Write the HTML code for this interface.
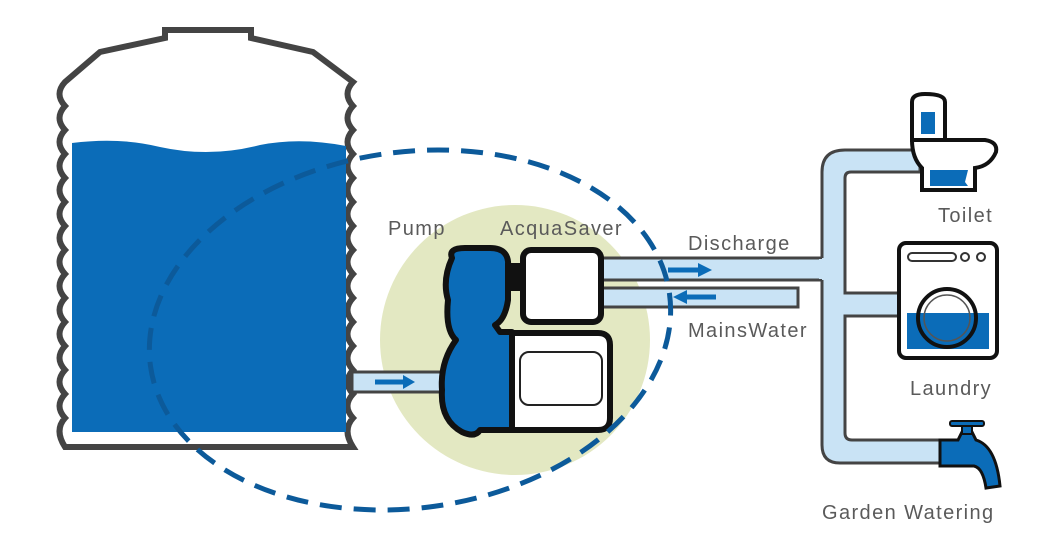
<!DOCTYPE html>
<html><head><meta charset="utf-8"><style>
html,body{margin:0;padding:0;background:#fff;}
svg{display:block;}
text{font-family:"Liberation Sans",sans-serif;font-size:20px;fill:#5a5a5a;letter-spacing:1.4px;}
</style></head><body>
<svg width="1056" height="557" viewBox="0 0 1056 557" xmlns="http://www.w3.org/2000/svg">
<circle cx="515" cy="340" r="135" fill="#e3e8c2"/>
<path d="M165,38 L165,30 L251,30 L251,38 L313,52 L353,82
 Q342,94 353,106 Q342,118 353,130 Q342,142 353,154 Q342,166 353,178 Q342,190 353,202 Q342,214 353,226 Q342,238 353,250 Q342,262 353,274 Q342,286 353,298 Q342,310 353,322 Q342,334 353,346 Q342,358 353,370 Q342,382 353,394 Q342,406 353,418 Q342,430 353,447
 L65,447 Q54,430 65,418 Q54,406 65,394 Q54,382 65,370 Q54,358 65,346 Q54,334 65,322 Q54,310 65,298 Q54,286 65,274 Q54,262 65,250 Q54,238 65,226 Q54,214 65,202 Q54,190 65,178 Q54,166 65,154 Q54,142 65,130 Q54,118 65,106 Q54,94 65,82 L100,52 Z" fill="#fff" stroke="#444" stroke-width="6" stroke-linejoin="miter"/>
<path d="M72,143 Q120,137 160,147 Q210,158 260,145 Q300,137 346,146 L346,432 L72,432 Z" fill="#0b6cb8"/>
<rect x="352" y="372" width="96" height="20" fill="#c9e3f5" stroke="#444" stroke-width="3"/>
<path d="M375,382 L405,382" stroke="#0b6cb8" stroke-width="5"/><path d="M403,375 L415,382 L403,389 Z" fill="#0b6cb8"/>
<path d="M600,258 L828,258 L828,280 L600,280" fill="#c9e3f5" stroke="#444" stroke-width="3"/>
<rect x="600" y="288" width="198" height="19" fill="#c9e3f5" stroke="#444" stroke-width="3"/>
<path d="M668,270 L700,270" stroke="#0b6cb8" stroke-width="5"/><path d="M698,263 L712,270 L698,277 Z" fill="#0b6cb8"/>
<path d="M685,297 L716,297" stroke="#0b6cb8" stroke-width="5"/><path d="M687,290 L673,297 L687,304 Z" fill="#0b6cb8"/>
<path d="M822,280 L822,445 Q822,463 840,463 L945,463 L945,440 L852,440 Q845,440 845,433 L845,316 L905,316 L905,293 L845,293 L845,178 Q845,172 851,172 L920,172 L920,150 L845,150 Q822,150 822,172 L822,258" fill="#c9e3f5" stroke="#444" stroke-width="3"/>
<rect x="819" y="259" width="8" height="20" fill="#c9e3f5"/>
<path d="M452,258 Q448,248 465,248 L490,248 Q510,248 508,268 L508,300 Q505,320 495,325 L500,332 L512,332 L512,430 L480,430 Q475,438 462,432 Q440,420 442,390 Q440,362 456,340 Q445,330 448,300 Q442,280 452,258 Z" fill="#0b6cb8" stroke="#111" stroke-width="6" stroke-linejoin="round"/>
<rect x="505" y="263" width="22" height="28" fill="#111"/>
<rect x="523" y="250" width="78" height="72" rx="8" fill="#fff" stroke="#111" stroke-width="6"/>
<path d="M512,333 L598,333 Q610,333 610,345 L610,418 Q610,430 598,430 L512,430 Z" fill="#fff" stroke="#111" stroke-width="6"/>
<rect x="520" y="352" width="82" height="53" rx="9" fill="#fff" stroke="#222" stroke-width="2"/>
<ellipse cx="410" cy="330" rx="262" ry="178" transform="rotate(-8 410 330)" fill="none" stroke="#0c5a9a" stroke-width="5" stroke-dasharray="22 12"/>
<path d="M912,102 Q912,94 925,94 Q945,94 945,102 L945,140 L912,140 Z" fill="#fff" stroke="#111" stroke-width="4"/>
<rect x="921" y="112" width="14" height="22" fill="#0b6cb8"/>
<path d="M912,140 L985,140 Q998,142 996,152 Q990,166 975,168 L975,190 L922,190 L922,168 Q912,158 912,140 Z" fill="#fff" stroke="#111" stroke-width="4"/>
<path d="M930,170 L968,170 L965,182 L968,186 L930,186 Z" fill="#0b6cb8"/>
<rect x="899" y="243" width="98" height="115" rx="7" fill="#fff" stroke="#111" stroke-width="4"/>
<rect x="908" y="253" width="48" height="8" rx="4" fill="none" stroke="#333" stroke-width="2"/>
<circle cx="965" cy="257" r="4" fill="none" stroke="#333" stroke-width="2"/><circle cx="981" cy="257" r="4" fill="none" stroke="#333" stroke-width="2"/>
<rect x="907" y="313" width="82" height="36" fill="#0b6cb8"/>
<circle cx="947" cy="318" r="29" fill="none" stroke="#111" stroke-width="4"/>
<circle cx="947" cy="318" r="23" fill="none" stroke="#555" stroke-width="1.5"/>
<path d="M940,440 L958,440 L962,432 L972,432 L976,440 Q996,446 1000,486 L986,488 Q983,468 974,466 L958,466 L940,466 Z" fill="#0b6cb8" stroke="#111" stroke-width="3"/>
<rect x="962" y="426" width="10" height="8" fill="#0b6cb8" stroke="#111" stroke-width="2"/>
<rect x="950" y="421" width="34" height="5" rx="2" fill="#0b6cb8" stroke="#111" stroke-width="2"/>
<text x="388" y="235">Pump</text>
<text x="500" y="235">AcquaSaver</text>
<text x="688" y="250">Discharge</text>
<text x="688" y="337">MainsWater</text>
<text x="938" y="222">Toilet</text>
<text x="910" y="395">Laundry</text>
<text x="822" y="519">Garden Watering</text>
</svg>
</body></html>
